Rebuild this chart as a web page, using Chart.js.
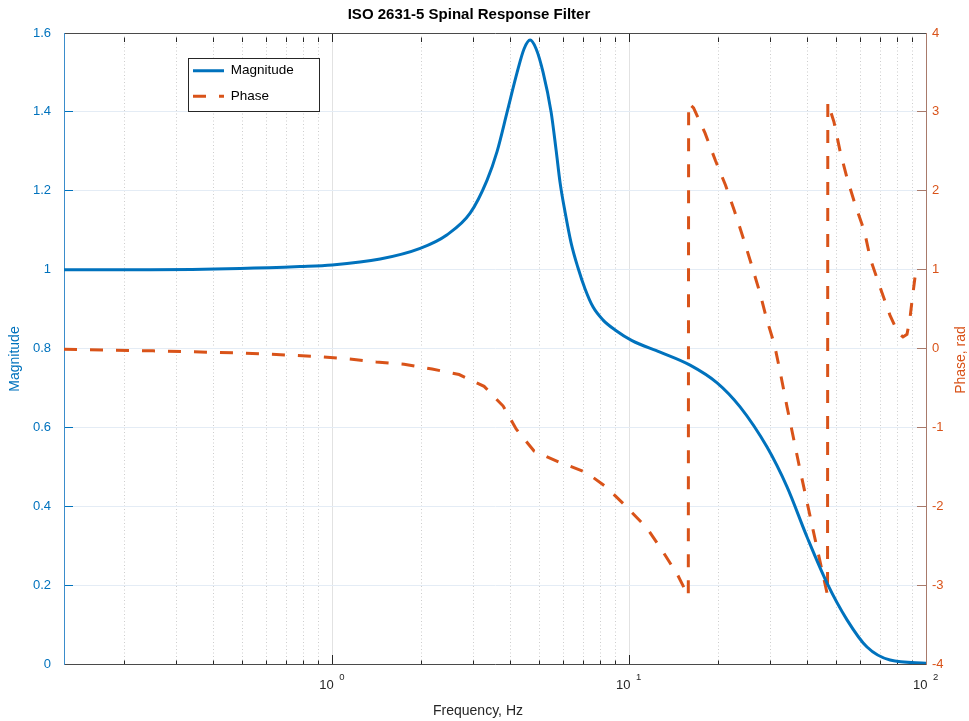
<!DOCTYPE html>
<html>
<head>
<meta charset="utf-8">
<title>ISO 2631-5 Spinal Response Filter</title>
<script src="https://cdn.jsdelivr.net/npm/chart.js@4.4.1/dist/chart.umd.min.js"></script>
<style>
  html, body { margin:0; padding:0; background:#fff; }
  #wrap { width:969px; height:721px; }
</style>
</head>
<body>
<div id="wrap"><canvas id="chart" width="969" height="721"></canvas></div>
<script>
// magnitude (Hz -> |H|)
const magFreq = [0.125, 0.244, 0.490, 0.780, 1.0, 1.451, 1.979, 2.433, 2.915, 3.325,
  3.594, 3.885, 4.197, 4.431, 4.642, 4.862, 5.134, 5.462, 5.679, 5.858,
  6.087, 6.378, 6.733, 7.110, 7.566, 8.177, 8.973, 10.23, 12.72, 16.05,
  19.79, 23.65, 29.15, 34.04, 39.75, 46.42, 54.20, 63.29, 75.66, 100];
const magValues = [1.000, 1.000, 1.003, 1.008, 1.012, 1.027, 1.054, 1.088, 1.143, 1.227,
  1.30, 1.40, 1.50, 1.56, 1.582, 1.56, 1.50, 1.40, 1.303, 1.220,
  1.146, 1.068, 1.004, 0.951, 0.905, 0.872, 0.847, 0.820, 0.791, 0.758,
  0.713, 0.652, 0.550, 0.449, 0.322, 0.205, 0.112, 0.043, 0.010, 0.002];

// phase (rad), wraps at -pi
const phaseFreq = [0.125, 0.2496, 0.490, 0.739, 0.933, 1.141, 1.406, 1.747, 2.171, 2.677,
  3.249, 3.766, 4.165, 4.786, 5.813, 7.166, 8.40, 9.88, 11.50, 12.97,
  14.57, 15.83, 15.87, 16.49, 18.03, 19.55, 21.13, 22.66, 24.29, 25.85,
  27.51, 29.04, 30.90, 32.24, 34.04, 37.66, 41.65, 46.6, 46.7, 49.0,
  51.5, 54.4, 57.9, 62.1, 65.0, 69.7, 75.66, 80.5, 83.66, 86.30,
  88.3, 89.7, 91.8];
const phaseValues = [-0.01, -0.03, -0.057, -0.086, -0.108, -0.133, -0.17, -0.20, -0.26, -0.33,
  -0.48, -0.73, -1.02, -1.30, -1.44, -1.57, -1.76, -2.02, -2.28, -2.57,
  -2.87, -3.14, 3.11, 3.05, 2.73, 2.38, 2.07, 1.74, 1.39, 1.06,
  0.72, 0.38, 0.044, -0.29, -0.74, -1.54, -2.30, -3.13, 3.12, 2.87,
  2.48, 2.14, 1.81, 1.48, 1.13, 0.80, 0.42, 0.20, 0.146, 0.18,
  0.38, 0.60, 0.90];

const xMin = 0.125, xMax = 100;
const xTicks = [0.2, 0.3, 0.4, 0.5, 0.6, 0.7, 0.8, 0.9, 1,
  2, 3, 4, 5, 6, 7, 8, 9, 10,
  20, 30, 40, 50, 60, 70, 80, 90, 100];
const xLabelValues = [1, 10, 100];
const xLabelExps = ['0', '1', '2'];

const FONT = '"Liberation Sans", Arial, Helvetica, sans-serif';
const BLUE = '#0072BD', ORANGE = '#D95319', AXIS = '#4a4a4a', RSPINE = '#a87a6b';

const isDecade = v => Math.abs(Math.log10(v) - Math.round(Math.log10(v))) < 1e-9;
const setTicks = s => { s.ticks = xTicks.map(v => ({ value: v, major: isDecade(v) })); };
const tickDash = c => (c.tick && !isDecade(c.tick.value)) ? [4.5, 30] : [];

function vText(ctx, txt, x, y, color){
  ctx.save();
  ctx.translate(x, y); ctx.rotate(-Math.PI / 2);
  ctx.textAlign = 'center'; ctx.textBaseline = 'middle';
  ctx.fillStyle = color; ctx.font = '14px ' + FONT;
  ctx.fillText(txt, 0, 0);
  ctx.restore();
}

const decor = {
  id: 'decor',
  afterLayout(chart){
    const lg = chart.legend, ca = chart.chartArea;
    const w = lg.width;
    lg.left = ca.left + 117; lg.top = ca.top + 19;
    lg.right = lg.left + w; lg.bottom = lg.top + 200;
    // title sits a bit left of the canvas centre in the original
    const tb = chart.titleBlock;
    tb.left = 0; tb.right = 938; tb.width = 938;
  },
  afterDraw(chart){
    const ctx = chart.ctx, ca = chart.chartArea, xs = chart.scales.x;
    // legend frame, then legend again on top of it
    ctx.save();
    const bx = Math.round(ca.left + 124) + 0.5, by = Math.round(ca.top + 25) + 0.5;
    ctx.fillStyle = '#fff'; ctx.fillRect(bx, by, 131, 53);
    ctx.strokeStyle = '#262626'; ctx.lineWidth = 1; ctx.strokeRect(bx, by, 131, 53);
    ctx.restore();
    chart.legend.draw();

    // decade labels 10^k
    ctx.save();
    ctx.fillStyle = '#262626';
    ctx.textBaseline = 'alphabetic';
    xLabelValues.forEach((v, i) => {
      const px = xs.getPixelForValue(v);
      ctx.font = '13px ' + FONT; ctx.textAlign = 'right';
      ctx.fillText('10', px + 1.5, ca.bottom + 24.5);
      ctx.font = '9.5px ' + FONT; ctx.textAlign = 'left';
      ctx.fillText(xLabelExps[i], px + 7, ca.bottom + 16);
    });
    ctx.font = '14px ' + FONT; ctx.textAlign = 'center'; ctx.textBaseline = 'middle';
    ctx.fillText('Frequency, Hz', 478, 711);
    ctx.restore();

    vText(ctx, 'Magnitude', 15, 359, BLUE);
    vText(ctx, 'Phase, rad', 961, 360, ORANGE);
  }
};

Chart.defaults.font.family = FONT;
Chart.defaults.font.size = 13;

const trim = v => String(+Number(v).toFixed(2));

new Chart(document.getElementById('chart'), {
  type: 'line',
  data: {
    datasets: [
      { label: 'Magnitude', data: magFreq.map((f, i) => ({ x: f, y: magValues[i] })),
        xAxisID: 'x', yAxisID: 'y', borderColor: BLUE, backgroundColor: BLUE,
        borderWidth: 3, pointRadius: 0, cubicInterpolationMode: 'monotone', fill: false },
      { label: 'Phase', data: phaseFreq.map((f, i) => ({ x: f, y: phaseValues[i] })),
        xAxisID: 'x', yAxisID: 'y2', borderColor: ORANGE, backgroundColor: ORANGE,
        borderWidth: 3, borderDash: [13, 13], borderCapStyle: 'butt',
        pointRadius: 0, tension: 0, fill: false }
    ]
  },
  options: {
    responsive: false, animation: false, devicePixelRatio: 1,
    layout: { padding: 0 },
    plugins: {
      title: { display: true, text: 'ISO 2631-5 Spinal Response Filter', color: '#000',
        font: { size: 15, weight: 'bold' }, padding: { top: 6, bottom: 9 } },
      legend: { position: 'chartArea', align: 'start',
        labels: { usePointStyle: true, pointStyle: 'line', pointStyleWidth: 31, boxHeight: 13,
          padding: 12, color: '#000', font: { size: 13.5 },
          generateLabels: chart => {
            const items = Chart.defaults.plugins.legend.labels.generateLabels(chart);
            items.forEach(it => {
              const ds = chart.data.datasets[it.datasetIndex];
              it.lineDash = ds.borderDash || [];
              it.lineWidth = ds.borderWidth;
              it.strokeStyle = ds.borderColor;
            });
            return items;
          } } },
      tooltip: { enabled: false }
    },
    scales: {
      x: { type: 'logarithmic', position: 'bottom', weight: 1, min: xMin, max: xMax,
        afterBuildTicks: setTicks, afterFit: s => { s.height = 57; },
        ticks: { display: false },
        grid: { color: c => (c.tick && isDecade(c.tick.value)) ? '#e2e2e2' : '#cdcdcd',
          tickLength: -9, tickColor: '#262626', tickBorderDash: tickDash },
        border: { color: AXIS, dash: c => (c.tick && !isDecade(c.tick.value)) ? [1, 2.5] : [] } },
      xTop: { type: 'logarithmic', position: 'top', min: xMin, max: xMax,
        afterBuildTicks: setTicks, afterFit: s => { s.height = 0; },
        ticks: { display: false },
        grid: { drawOnChartArea: false, tickLength: -9, tickColor: '#262626', tickBorderDash: tickDash },
        border: { color: AXIS } },
      y: { position: 'left', min: 0, max: 1.6, afterFit: s => { s.width = 64; },
        ticks: { stepSize: 0.2, color: BLUE, padding: 22, font: { size: 13 }, callback: trim },
        grid: { color: '#e4ecf5', tickLength: -9, tickColor: BLUE },
        border: { color: '#3a8ccb' } },
      y2: { position: 'right', min: -4, max: 4, afterFit: s => { s.width = 43; },
        ticks: { stepSize: 1, color: ORANGE, padding: 15, font: { size: 13 }, callback: trim },
        grid: { drawOnChartArea: false, tickLength: -9, tickColor: RSPINE },
        border: { color: RSPINE } }
    }
  },
  plugins: [decor]
});
</script>
</body>
</html>
